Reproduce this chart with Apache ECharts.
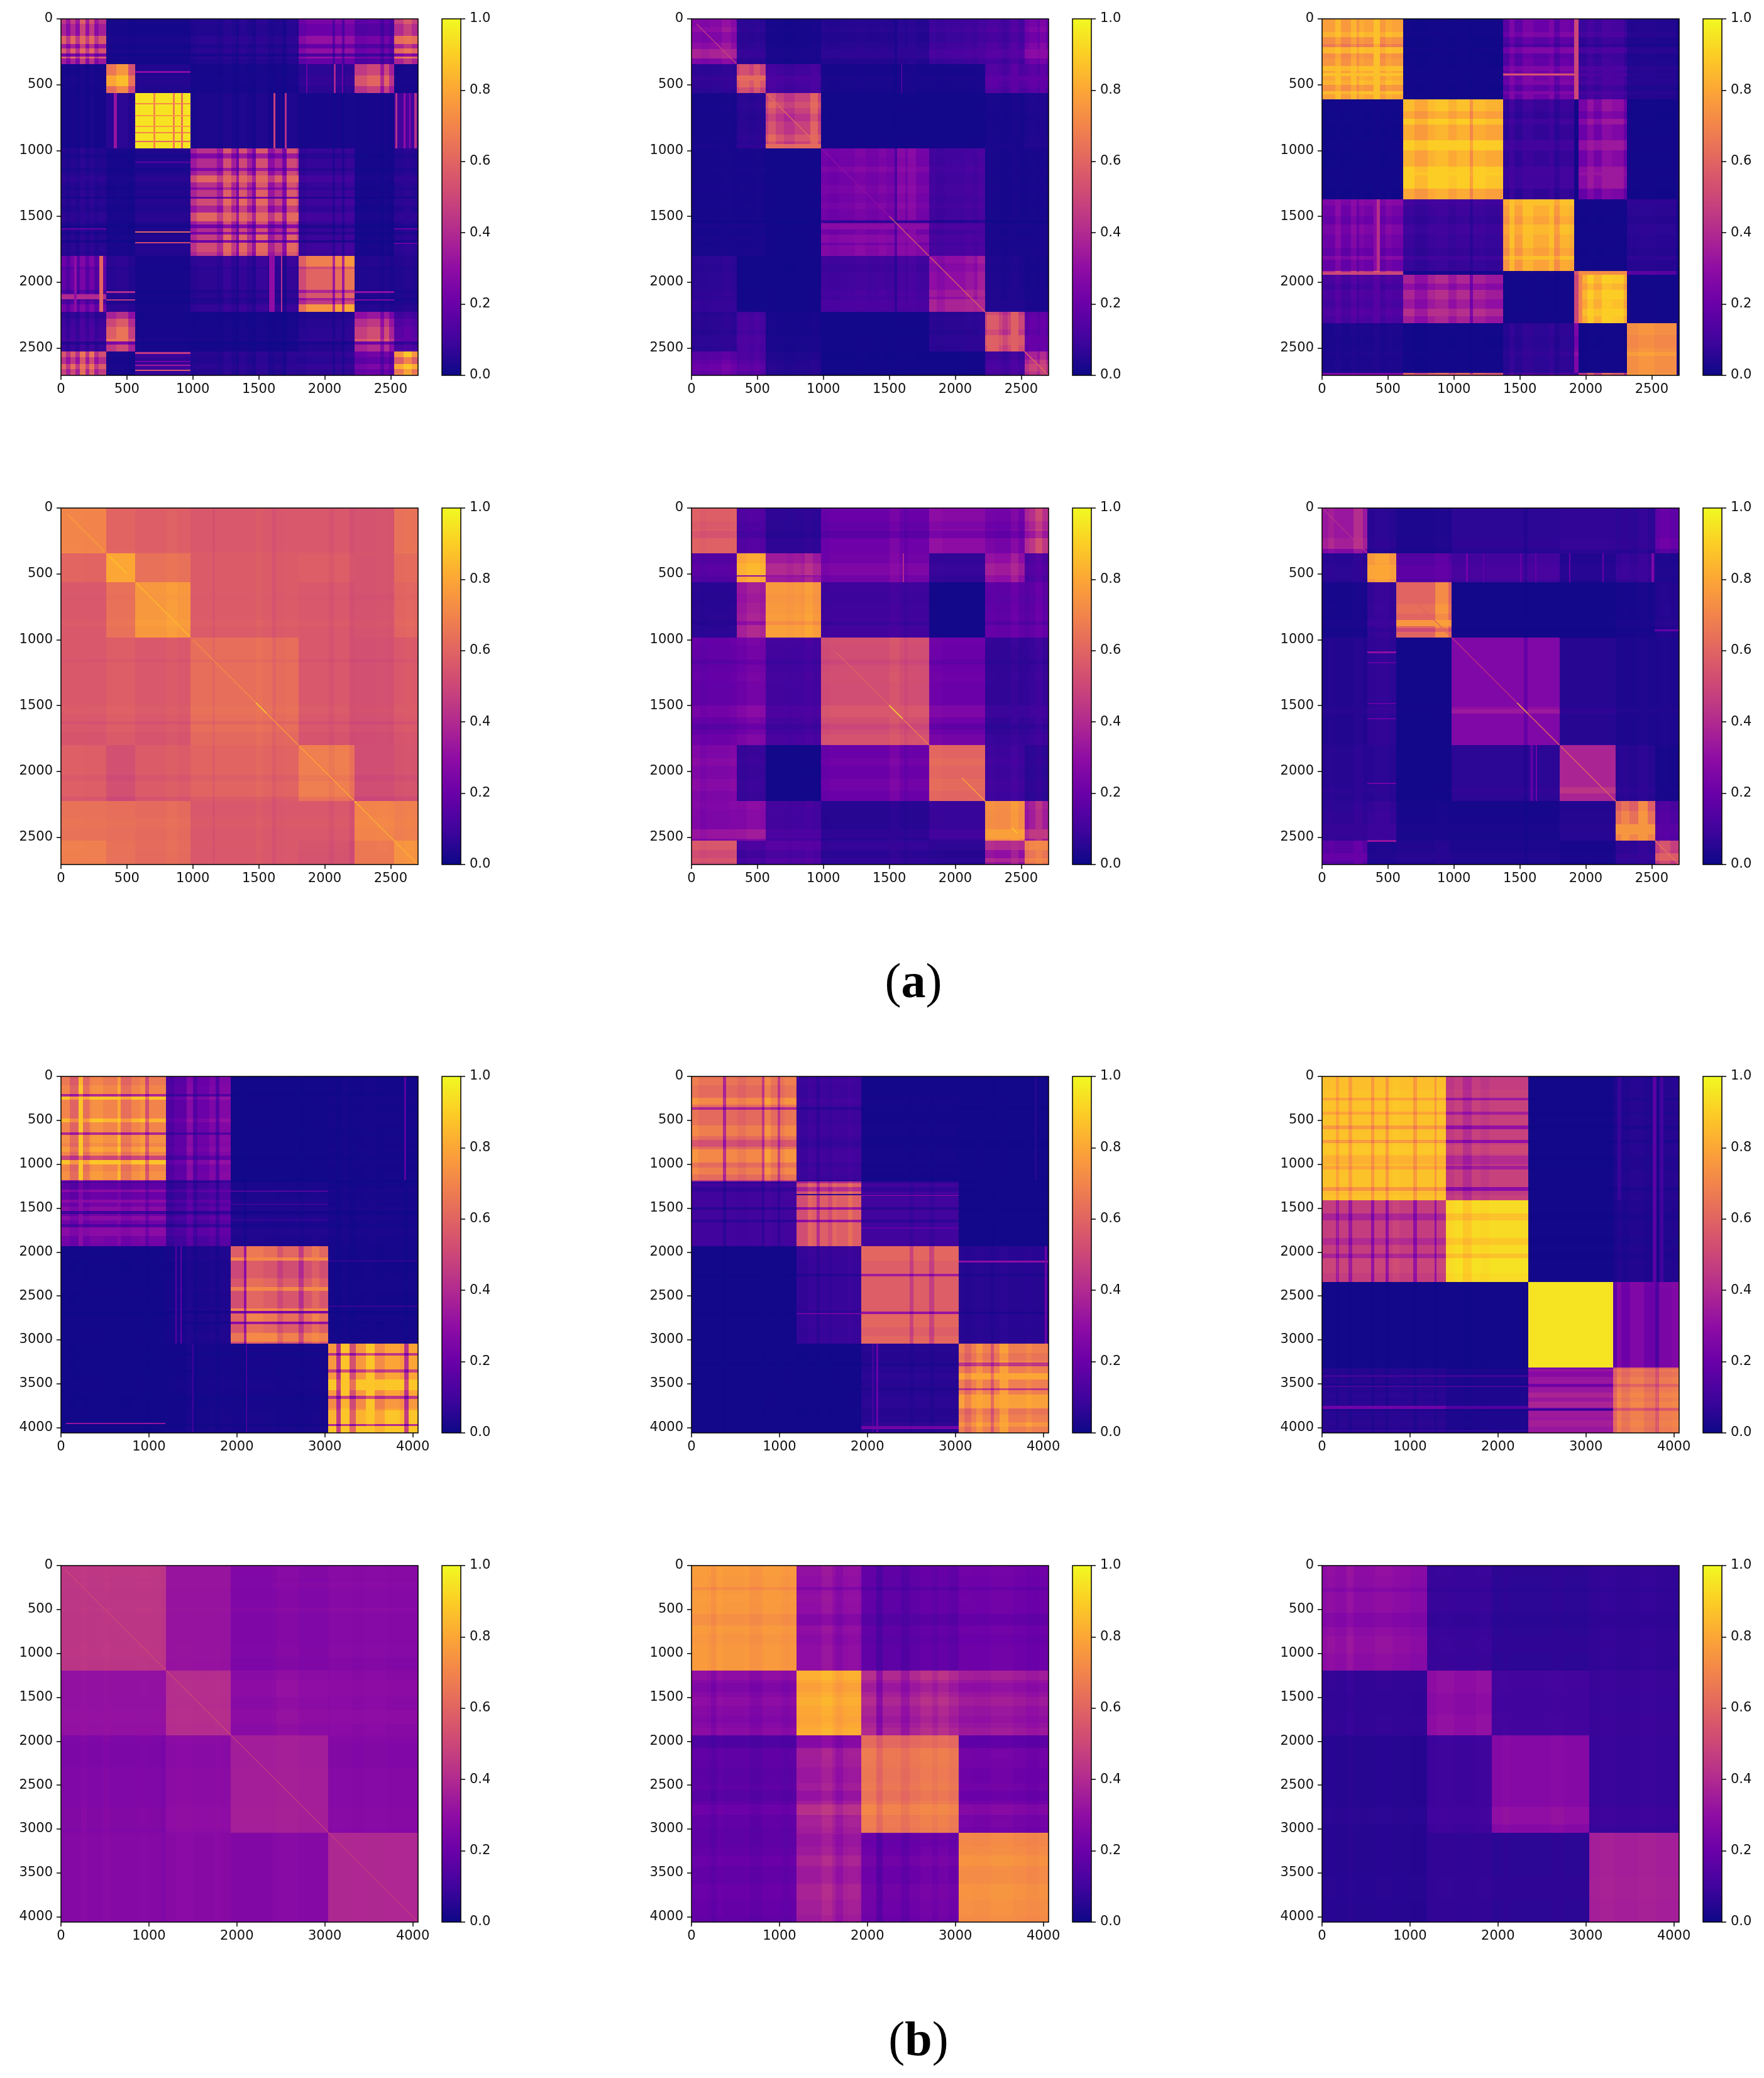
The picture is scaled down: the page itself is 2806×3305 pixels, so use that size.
<!DOCTYPE html>
<html>
<head>
<meta charset="utf-8">
<title>Similarity matrices</title>
<script src="https://cdn.jsdelivr.net/npm/echarts@6/dist/echarts.min.js"></script>
<style>
  html, body { margin: 0; padding: 0; background: #fff; }
  #chart { width: 2806px; height: 3305px; }
</style>
</head>
<body>
<div id="chart"></div>
<script>
// tick labels
const xTicksA = [0, 500, 1000, 1500, 2000, 2500];
const yTicksA = [0, 500, 1000, 1500, 2000, 2500];
const xTicksB = [0, 1000, 2000, 3000, 4000];
const yTicksB = [0, 500, 1000, 1500, 2000, 2500, 3000, 3500, 4000];
const barTicks = [0, 0.2, 0.4, 0.6, 0.8, 1];
const sizeA = 2708;
const sizeB = 4060;

// cluster edges, in matrix index
const edgesA = [0, 345, 563, 983, 1800, 2228, 2526, 2708];
const edgesA3 = [0, 613, 1372, 1913, 1945, 2312, 2690, 2708];
const edgesB = [0, 1195, 1930, 3040, 4060];
const edgesB3 = [0, 1408, 2345, 3312, 4060];

const plasma = ['#0d0887', '#41049d', '#6a00a8', '#8f0da4', '#b12a90', '#cc4778', '#e16462', '#f2844b', '#fca636', '#fcce25', '#f0f921'];

// mean value of each cluster pair
const p1Blocks = [
  [.47, .02, .02, .05, .24, .18, .50],
  [.02, .66, .04, .02, .06, .50, .02],
  [.02, .05, .95, .03, .02, .02, .10],
  [.05, .02, .04, .47, .08, .02, .05],
  [.20, .05, .02, .07, .62, .04, .04],
  [.10, .50, .02, .02, .05, .45, .14],
  [.50, .02, .08, .05, .06, .20, .68]
];
const p2Blocks = [
  [.30, .06, .02, .05, .10, .12, .22],
  [.06, .48, .10, .02, .02, .13, .14],
  [.02, .05, .48, .01, .01, .02, .03],
  [.02, .02, .01, .22, .10, .02, .02],
  [.06, .01, .01, .10, .30, .03, .02],
  [.05, .10, .02, .01, .05, .45, .15],
  [.18, .14, .04, .01, .01, .10, .38]
];
const p3Blocks = [
  [.80, .01, .20, .45, .10, .04, .02],
  [.01, .83, .08, .01, .26, .01, .02],
  [.22, .08, .80, .01, .01, .05, .02],
  [.45, .02, .02, .55, .65, .15, .02],
  [.12, .32, .01, .60, .84, .01, .01],
  [.03, .01, .06, .25, .01, .73, .01],
  [.25, .55, .12, .10, .50, .75, .02]
];
const p4Blocks = [
  [.70, .60, .58, .56, .56, .54, .64],
  [.60, .80, .64, .57, .58, .54, .62],
  [.56, .64, .76, .57, .56, .54, .60],
  [.56, .58, .56, .63, .56, .53, .56],
  [.58, .53, .57, .60, .68, .52, .54],
  [.64, .63, .62, .56, .56, .70, .68],
  [.68, .64, .62, .56, .54, .66, .74]
];
const p5Blocks = [
  [.58, .14, .06, .20, .28, .22, .42],
  [.14, .80, .33, .22, .07, .30, .13],
  [.05, .33, .74, .09, .01, .16, .16],
  [.18, .22, .10, .52, .20, .07, .08],
  [.25, .08, .01, .20, .60, .09, .06],
  [.25, .27, .10, .05, .08, .72, .35],
  [.52, .10, .12, .06, .05, .32, .66]
];
const p6Blocks = [
  [.33, .05, .03, .06, .07, .06, .17],
  [.05, .74, .14, .10, .04, .07, .03],
  [.02, .07, .60, .01, .01, .02, .04],
  [.04, .06, .01, .26, .05, .03, .03],
  [.05, .05, .01, .06, .38, .05, .02],
  [.06, .07, .02, .02, .04, .58, .12],
  [.15, .03, .04, .03, .02, .06, .45]
];
const p7Blocks = [
  [.70, .24, .01, .015],
  [.22, .14, .03, .02],
  [.01, .03, .55, .015],
  [.01, .02, .02, .76]
];
const p8Blocks = [
  [.62, .09, .015, .01],
  [.10, .58, .10, .01],
  [.01, .08, .58, .05],
  [.01, .01, .05, .68]
];
const p9Blocks = [
  [.87, .48, .01, .05],
  [.47, .93, .01, .04],
  [.01, .01, .95, .26],
  [.05, .03, .33, .68]
];
const p10Blocks = [
  [.44, .32, .26, .27],
  [.31, .41, .29, .28],
  [.26, .29, .36, .27],
  [.27, .28, .27, .39]
];
const p11Blocks = [
  [.76, .30, .17, .21],
  [.27, .80, .36, .32],
  [.17, .35, .66, .22],
  [.18, .34, .20, .72]
];
const p12Blocks = [
  [.29, .08, .06, .07],
  [.07, .28, .10, .08],
  [.05, .09, .27, .08],
  [.05, .07, .06, .36]
];

// above this block value the stripes of a panel fade
const softFrom = [.81, .81, .7, .4, .5, .7, .81, .81, .65, .3, .6, .3];
// brightest colour value seen in each panel
const peaks = [.97, .62, .9, .85, .86, .9, .88, .8, .95, .52, .86, .46];

// stripes: [from, to, weight on the block value]
const p1Rows = [[0,40,.95],[40,130,.8],[130,190,1.25],[190,225,.75],[225,265,1.2],[265,285,.5],[285,300,1.25],[300,345,.75],[345,430,.95],[430,510,1.15],[510,563,.9],
  [983,1020,.95],[1020,1060,.6],[1060,1130,.9],[1130,1155,.6],[1155,1190,.9],[1190,1240,1.35],[1240,1280,.95],[1280,1300,.7],[1300,1350,1],[1350,1365,.45],[1365,1420,1.15],[1420,1470,.85],[1470,1540,1.35],[1540,1560,.9],[1560,1590,.5],[1590,1620,.9],[1620,1640,.55],[1640,1680,1.05],[1680,1700,.45],[1700,1770,1.15],
  [1800,1880,1.05],[1880,1900,.8],[1900,2060,.92],[2060,2080,.6],[2080,2120,.85],[2120,2140,.55],[2140,2170,.7],[2170,2228,1.15],
  [2228,2280,.7],[2280,2340,.95],[2340,2430,1.1],[2430,2450,1.3],[2450,2475,.45],[2475,2526,.85],[2526,2570,1.1],[2570,2620,.85],[2620,2660,1.2],[2660,2690,.95]];
const p1Cols = [[0,40,1],[40,70,.75],[70,110,1.05],[110,145,.75],[145,185,1.3],[185,215,.8],[215,255,1.2],[255,285,.75],[285,345,.95],[345,420,1.05],[420,510,1.2],[510,563,.85],
  [983,1030,.8],[1030,1180,.95],[1180,1230,.75],[1230,1290,1.25],[1290,1330,.85],[1330,1350,.55],[1350,1410,1.2],[1410,1450,.85],[1450,1480,.6],[1480,1570,1.25],[1570,1620,.7],[1620,1680,.9],[1680,1710,.55],[1710,1790,1.2],
  [1800,1860,.9],[1860,2060,1.05],[2060,2080,.6],[2080,2130,1.1],[2130,2150,.6],[2150,2228,1.15],[2228,2320,.95],[2320,2420,1.05],[2420,2450,.7],[2450,2490,1.05],[2490,2526,.75],[2526,2600,1],[2600,2660,1.2]];
const p2Rows = [[0,60,.9],[100,180,.85],[230,300,1.25],[300,345,.85],[430,470,1.3],[470,520,1.15],[630,680,1.1],[720,780,.9],[880,930,1.15],[950,985,1.4],[983,1050,1.05],[1120,1165,1.15],[1260,1330,1.1],[1400,1440,1.1],[1530,1550,.45],[1550,1600,1.35],[1640,1700,1.25],[1720,1800,1.2],[1860,1920,.9],[2060,2110,1.15],[2130,2228,1.25],[2250,2360,1.1],[2400,2480,1.25],[2480,2526,1.15],[2526,2590,.85],[2620,2680,1.15]];
const p2Cols = [[70,140,.95],[230,300,1.15],[360,440,1.1],[470,520,1.15],[580,640,1.15],[700,780,.9],[900,960,1.25],[1040,1120,.95],[1240,1320,1.1],[1420,1480,1.1],[1540,1560,.55],[1560,1620,1.2],[1640,1700,1.25],[1860,1920,.9],[2080,2140,1.1],[2170,2228,1.2],[2240,2330,1.15],[2360,2400,.9],[2420,2480,1.3],[2560,2620,1.15],[2640,2690,1.25]];
const p3Rows = [[0,100,1],[100,140,1.25],[140,190,.8],[190,215,.6],[215,265,1.3],[265,300,.8],[300,360,.9],[360,395,1.4],[395,412,1.05],[412,435,1.9],[435,470,1.1],[470,500,1.25],[500,550,.85],[550,575,1.35],[575,613,1.05],
  [613,700,1.05],[700,760,.85],[760,800,1.2],[800,920,.9],[920,1000,1.35],[1000,1120,.95],[1120,1165,1.3],[1165,1190,1.4],[1190,1290,1.25],[1290,1372,.85],
  [1372,1420,1.3],[1420,1500,1.1],[1500,1560,.95],[1560,1640,1.2],[1640,1740,1.05],[1740,1800,.9],[1800,1830,1.3],[1830,1913,.95],
  [1945,2010,1.1],[2010,2060,.9],[2060,2130,1.15],[2130,2200,1],[2200,2260,1.25],[2260,2312,1.05],[2400,2500,.9],[2530,2560,1.2]];
const p3Cols = [[0,100,.9],[100,145,1.2],[145,220,.85],[220,260,1.15],[260,280,.8],[280,320,1.05],[320,390,.95],[390,440,1.7],[440,480,.85],[480,530,1.05],[530,613,.95],
  [613,700,1.05],[700,800,.85],[800,860,1.05],[860,960,1.15],[960,1020,.95],[1020,1120,1.1],[1120,1145,.65],[1145,1240,1.05],[1240,1372,.95],
  [1372,1420,.8],[1420,1460,1.25],[1460,1520,.85],[1520,1600,1.2],[1600,1720,1],[1720,1760,1.25],[1760,1800,.75],[1800,1880,1.1],
  [1945,2010,.85],[2010,2060,1.15],[2060,2120,.9],[2120,2200,1.2],[2200,2290,1.1],[2290,2312,.8],[2400,2520,1.1]];
const p4Rows = [[0,110,1],[330,345,1.05],[650,700,.97],[850,900,1.06],[1150,1170,.9],[1500,1560,1.05],[1620,1645,.85],[1700,1800,.92],[2030,2075,.9],[2190,2228,.84],[2350,2430,1.04],[2526,2610,1.02]];
const p4Cols = [[0,170,1.02],[800,880,1.07],[1150,1170,.88],[1480,1530,1.08],[1600,1630,.85],[1640,1700,.97],[1800,1900,1],[2030,2075,.9],[2190,2225,.82],[2400,2480,1.02],[2610,2680,1.03]];
const p5Rows = [[100,160,.9],[170,230,.8],[230,345,1.05],[350,420,1],[420,510,1.15],[563,650,1.05],[720,800,1.05],[800,860,1.1],[860,890,.9],[890,983,1.15],[983,1040,1.05],[1150,1190,.85],[1250,1320,1.05],[1500,1590,1.25],[1590,1640,1.05],[1640,1680,.85],[1720,1800,1.15],[1800,1900,1],[1900,1960,1.1],[2060,2150,1.1],[2228,2290,1.05],[2440,2510,1.3],[2510,2526,1],[2526,2600,1.25],[2600,2660,.95],[2660,2690,1.2]];
const p5Cols = [[0,60,1.05],[60,120,.95],[290,345,1.05],[345,420,.95],[420,520,1.05],[563,720,1.05],[770,830,1.05],[860,920,1.15],[983,1050,.95],[1250,1370,1],[1500,1580,1.2],[1610,1640,.9],[1800,1900,1.05],[2228,2300,1.05],[2420,2480,1.2],[2526,2560,.9],[2610,2660,1.2]];
const p6Rows = [[230,310,1.1],[310,345,.8],[350,420,1.05],[430,540,1.2],[730,800,1.05],[850,900,1.25],[910,940,.85],[1510,1530,1.15],[1530,1560,1.3],[1560,1600,1],[1970,2050,1],[2120,2170,1.15],[2300,2400,1.1],[2400,2480,1.3],[2480,2526,1.2],[2526,2600,1.05],[2620,2680,1.25]];
const p6Cols = [[50,90,1.1],[240,310,1.25],[350,400,1.05],[400,510,1.2],[600,700,1],[860,960,1.2],[1530,1560,.7],[1940,2060,1],[2270,2330,1.1],[2400,2470,1.25],[2560,2640,1.15]];
const p7Rows = [[0,100,.95],[200,230,.55],[230,265,1.25],[265,440,1],[480,520,1.2],[640,665,.55],[665,760,1.05],[800,860,1.1],[900,950,.7],[950,1000,1.25],[1000,1080,1],[1080,1180,1.05],[1184,1210,.4],
  [1210,1290,.8],[1290,1320,1.35],[1320,1400,.9],[1400,1440,1.4],[1480,1530,1.3],[1530,1570,.45],[1590,1640,1.3],[1680,1720,.6],[1720,1820,1.35],[1820,1890,1.05],
  [1930,2060,1.1],[2060,2100,1.4],[2100,2300,.95],[2300,2400,1.05],[2400,2440,1.3],[2640,2670,1.35],[2670,2700,.45],[2700,2790,1.15],[2790,2820,.55],[2820,2920,1.05],[2920,3020,1.25],
  [3040,3150,1],[3150,3180,.55],[3180,3340,1],[3340,3370,.6],[3450,3570,1.2],[3640,3670,.55],[3670,3780,.95],[3800,3960,1.1],[3960,3980,.5],[3980,4060,1.15]];
const p7Cols = [[0,100,1],[100,200,.85],[200,250,1.25],[250,320,.9],[340,480,1.05],[560,640,1],[640,680,1.15],[680,800,.9],[900,960,1.05],[960,1000,.75],[1000,1190,1],
  [1195,1290,.55],[1290,1430,.7],[1430,1500,1.15],[1500,1550,.6],[1550,1690,.85],[1690,1760,1.05],[1760,1800,.6],[1800,1930,1.1],
  [1930,2080,.95],[2080,2110,.55],[2110,2300,1.1],[2300,2460,1.05],[2460,2520,.9],[2700,2760,.75],[2760,2850,1],[2850,2940,1.1],[2940,3040,1],
  [3040,3130,1],[3130,3180,.55],[3180,3280,1.15],[3280,3350,.7],[3350,3470,1],[3470,3570,1.25],[3570,3680,.95],[3680,3850,1.05],[3900,3950,.55],[3950,4060,1.05]];
const p8Rows = [[0,100,1.05],[240,320,1.15],[350,380,.6],[380,490,1],[560,680,1.1],[720,800,.85],[830,980,1.15],[1040,1120,1.1],[1184,1220,.7],[1260,1310,.7],[1350,1450,1],[1490,1520,.55],[1630,1660,.55],[1660,1770,1],[1930,2100,1.05],[2250,2280,.6],[2280,2390,1],[2680,2710,.55],[2710,2860,1.05],[2960,3040,1.05],[3150,3240,.95],[3260,3300,.65],[3380,3450,1.2],[3550,3570,.65],[3620,3780,1.15],[3780,3850,.95],[3940,3990,1.1]];
const p8Cols = [[0,80,1.05],[360,390,.6],[390,520,1],[520,620,.95],[800,830,.7],[830,900,1.1],[980,1010,.7],[1060,1190,1.05],[1195,1320,.9],[1320,1370,1.05],[1420,1460,.7],[1550,1600,.9],[1600,1650,1.05],[1780,1830,1.1],[1930,2070,1],[2480,2520,.8],[2700,2760,.8],[2980,3040,1],[3100,3180,.9],[3240,3310,1.1],[3400,3440,.8],[3500,3600,1.15],[3800,3870,1.05]];
const p9Rows = [[0,150,.97],[240,270,.7],[400,440,.75],[560,600,.65],[720,760,.65],[780,880,1.05],[900,1000,.85],[1020,1060,.75],[1090,1220,1],[1260,1300,.6],[1300,1350,.95],[1408,1500,1],[1560,1640,.8],[1840,1920,.85],[2020,2070,.8],[2070,2240,1.05],[2345,2400,1.03],[3312,3340,.7],[3360,3420,.85],[3500,3540,.65],[3600,3660,1.15],[3700,3770,1.15],[3770,3810,.55],[3810,3880,1.05],[3920,3990,1.1]];
const p9Cols = [[0,110,1],[160,190,.75],[300,340,.7],[560,590,.65],[720,760,.65],[800,880,1.05],[1040,1080,.65],[1280,1300,.65],[1300,1330,1],[1408,1500,.95],[1600,1700,.85],[1800,1900,.95],[2345,2500,1],[3312,3350,.65],[3400,3500,.8],[3600,3660,1],[3660,3790,.8],[3730,3790,.55],[3790,3830,.5],[3830,3980,.95]];
const p10Rows = [[0,150,1.03],[180,260,1.04],[480,520,1.06],[900,1040,1.02],[1060,1180,.98],[1300,1500,1.03],[1650,1800,1.04],[2000,2300,.97],[2750,3000,1.03]];
const p10Cols = [[230,290,1.05],[480,560,1.04],[880,1000,1.02],[1140,1190,.96],[1300,1500,1.02],[1750,1800,1.02],[1930,2400,.98],[2450,2700,1.05],[3050,3300,1.02],[3450,3700,1.02]];
const p11Rows = [[0,120,1.03],[240,280,.85],[320,420,1.02],[550,680,.88],[700,740,1.02],[780,900,.95],[900,1180,1],[1195,1300,1.1],[1340,1440,.92],[1500,1600,1.08],[1720,1790,.95],[1850,1930,1.06],[1930,2080,.78],[2100,2200,1.02],[2300,2480,.95],[2560,2680,.9],[2720,2840,1.2],[2860,2980,1.05],[3060,3200,.95],[3300,3420,1.1],[3620,3800,1.1],[3800,3980,1.05]];
const p11Cols = [[0,180,1.03],[220,280,.9],[300,350,1.05],[600,660,1.02],[640,800,.92],[820,1000,1.02],[1040,1120,.95],[1195,1480,1],[1480,1600,1.1],[1640,1720,.9],[1780,1900,1.02],[1930,2100,1.05],[2100,2170,.75],[2380,2480,.85],[2600,2740,1.1],[2800,2920,1.1],[3050,3200,1.02],[3400,3650,1.05],[3800,3950,.95]];
const p12Rows = [[0,120,1.02],[250,300,.9],[540,700,.9],[800,1000,1.05],[1195,1450,1.05],[1700,1930,1.05],[1930,2100,1],[2750,2950,1.12],[3060,3300,1],[3550,3800,1.05]];
const p12Cols = [[60,140,1.05],[280,360,1.1],[600,800,1.05],[1000,1190,.95],[1300,1500,1.05],[1750,1920,1.05],[2050,2130,1.05],[2600,2750,1.05],[3150,3330,1.08],[3600,3800,1.08]];

// thin lines that cross a block: [x from, x to, y from, y to, value]
const p1Lines = [
  [563,983,395,412,.28],[400,422,563,983,.32],[1612,1626,563,983,.48],[1695,1710,563,983,.42],[2535,2552,563,983,.42],[2600,2612,563,983,.3],[2640,2652,563,983,.28],[2680,2700,563,983,.42],
  [563,983,640,650,.72],[563,983,860,870,.7],[563,983,925,938,.62],[700,715,563,983,.72],[850,862,563,983,.68],[910,925,563,983,.65],[563,983,730,742,.78],[563,983,810,820,.78],
  [563,983,1086,1096,.16],[563,983,1615,1626,.6],[563,983,1695,1706,.5],[563,983,2530,2546,.45],[563,983,2596,2606,.22],[563,983,2626,2638,.35],[563,983,2664,2676,.55],
  [1580,1620,1800,2228,.3],[1668,1680,1800,2228,.42],[2070,2082,345,563,.38],[2130,2140,345,563,.22],[1860,1870,345,563,.2],
  [345,563,2070,2080,.4],[345,563,2130,2140,.45],[2228,2526,2070,2080,.3],[2228,2526,2130,2140,.25],[0,345,2090,2128,.4],
  [1,345,1590,1600,.2],[2526,2708,1590,1600,.2],[2526,2708,1700,1708,.2],[100,120,1800,2228,.3],[290,320,1800,2228,.6]
];
const p2Lines = [[1590,1598,345,563,.22],[1010,1800,1540,1546,.05]];
const p3Lines = [
  [1372,1913,415,432,.55],[1913,1945,0,613,.5],[0,613,1925,1945,.5],[1945,2312,1913,1945,.72],[1945,1975,1945,2312,.7],[1913,1945,1945,2312,.5],
  [2690,2708,613,1372,.02],[613,1372,2700,2708,.55],[0,613,2690,2708,.25],[415,440,1372,1913,.42]
];
const p4Lines = [[2225,2235,2228,2240,.9]];
const p5Lines = [[345,980,510,520,.3],[1600,1610,345,563,.4]];
const p6Lines = [[345,563,1090,1102,.3],[345,563,1170,1178,.18],[345,563,1480,1490,.18],[345,563,1595,1604,.2],[345,563,2085,2095,.22],[345,563,2520,2536,.32],
  [1090,1104,345,563,.22],[1220,1228,345,563,.16],[1500,1510,345,563,.2],[1615,1625,345,563,.18],[1875,1885,345,563,.2],[2125,2135,345,563,.2],[2500,2515,345,563,.26],[2520,2708,920,935,.2],[1580,1600,1800,2228,.16],[1620,1632,1800,2228,.22]];
const p7Lines = [[3900,3925,0,1184,.16],[1300,1315,1930,3040,.16],[1360,1375,1930,3040,.18],[1930,3040,1300,1310,.24],[1930,3040,1450,1460,.16],[1930,3040,1630,1640,.12],[3040,4060,2095,2105,.12],[3040,4060,2610,2622,.16],[60,1190,3945,3958,.32],[2100,2115,3040,4060,.1],[1495,1505,3040,4060,.1]];
const p8Lines = [[3900,3925,0,1184,.05],[1195,1930,1340,1350,.05],[1930,3040,3950,3960,.08],[1930,3040,1350,1360,.3],[1930,3040,1720,1730,.18],[3040,4060,2100,2122,.3],[4020,4035,1930,3040,.22],[2100,2120,3040,4060,.2],[1195,1930,2695,2705,.22],[2050,2070,3040,4060,.1],[1930,3040,3980,4015,.22]];
const p9Lines = [[0,1408,3750,3790,.22],[1408,2345,3750,3785,.14],[3360,3400,0,1408,.08],[3760,3800,0,2345,.16],[3840,3880,0,2345,.1],[0,2345,3400,3420,.1],[0,2345,3520,3540,.12],[0,2345,4030,4040,.12],[2345,3312,3790,3800,.06]];
const p10Lines = [];
const p11Lines = [[1195,1930,3050,3060,.35]];
const p12Lines = [];

// bright diagonal runs: [from, to, value]
const p2Diag = [[40,340,.48],[570,980,.62],[1000,1500,.3],[1500,1800,.55],[1810,2228,.58],[2526,2708,.62]];
const p4Diag = [[50,330,.78],[370,500,.88],[570,980,.85],[1000,1480,.72],[1480,1560,.92],[1560,1800,.76],[1810,2220,.8],[2235,2708,.82]];
const p5Diag = [[1100,1500,.6],[1500,1600,.95],[1600,1800,.68],[2050,2228,.8],[2430,2470,.9]];
const p6Diag = [[0,340,.42],[570,980,.6],[985,1480,.42],[1480,1560,.85],[1560,1800,.62],[1810,2228,.6],[2526,2708,.65]];
const p10Diag = [[50,1190,.5],[1200,1930,.5],[1930,3040,.46],[3040,4060,.46]];
const p12Diag = [];

const panels = [
  {n: sizeA, xt: xTicksA, yt: yTicksA, edges: edgesA, blocks: p1Blocks, rows: p1Rows, cols: p1Cols, lines: p1Lines, diag: []},
  {n: sizeA, xt: xTicksA, yt: yTicksA, edges: edgesA, blocks: p2Blocks, rows: p2Rows, cols: p2Cols, lines: p2Lines, diag: p2Diag},
  {n: sizeA, xt: xTicksA, yt: yTicksA, edges: edgesA3, blocks: p3Blocks, rows: p3Rows, cols: p3Cols, lines: p3Lines, diag: []},
  {n: sizeA, xt: xTicksA, yt: yTicksA, edges: edgesA, blocks: p4Blocks, rows: p4Rows, cols: p4Cols, lines: p4Lines, diag: p4Diag},
  {n: sizeA, xt: xTicksA, yt: yTicksA, edges: edgesA, blocks: p5Blocks, rows: p5Rows, cols: p5Cols, lines: p5Lines, diag: p5Diag},
  {n: sizeA, xt: xTicksA, yt: yTicksA, edges: edgesA, blocks: p6Blocks, rows: p6Rows, cols: p6Cols, lines: p6Lines, diag: p6Diag},
  {n: sizeB, xt: xTicksB, yt: yTicksB, edges: edgesB, blocks: p7Blocks, rows: p7Rows, cols: p7Cols, lines: p7Lines, diag: []},
  {n: sizeB, xt: xTicksB, yt: yTicksB, edges: edgesB, blocks: p8Blocks, rows: p8Rows, cols: p8Cols, lines: p8Lines, diag: []},
  {n: sizeB, xt: xTicksB, yt: yTicksB, edges: edgesB3, blocks: p9Blocks, rows: p9Rows, cols: p9Cols, lines: p9Lines, diag: []},
  {n: sizeB, xt: xTicksB, yt: yTicksB, edges: edgesB, blocks: p10Blocks, rows: p10Rows, cols: p10Cols, lines: p10Lines, diag: p10Diag},
  {n: sizeB, xt: xTicksB, yt: yTicksB, edges: edgesB, blocks: p11Blocks, rows: p11Rows, cols: p11Cols, lines: p11Lines, diag: []},
  {n: sizeB, xt: xTicksB, yt: yTicksB, edges: edgesB, blocks: p12Blocks, rows: p12Rows, cols: p12Cols, lines: p12Lines, diag: p12Diag}
];

// layout of the page, in px
const colLeft = [97, 1100, 2103];
const rowTop = [30, 808, 1712, 2490];
const plotW = 568;
const plotH = 567;
const barLeft = 606;
const barW = 30;
const fontFamily = '"DejaVu Sans", sans-serif';
const fontSize = 21;

function breaksOf(edges, bands) {
  let set = new Set(edges);
  bands.forEach(b => { set.add(b[0]); set.add(b[1]); });
  return Array.from(set).sort((a, b) => a - b);
}

function findIndex(edges, v) {
  for (let i = 0; i < edges.length - 1; i++) {
    if (v < edges[i + 1]) return i;
  }
  return edges.length - 2;
}

function weightAt(bands, v) {
  for (let i = 0; i < bands.length; i++) {
    if (v >= bands[i][0] && v < bands[i][1]) return bands[i][2];
  }
  return 1;
}

// one row per drawn cell: x0, x1, y0, y1, value, kind (0 rect, 1 diagonal)
function cellsOf(p, soft, peak) {
  let out = [];
  const xs = breaksOf(p.edges, p.cols);
  const ys = breaksOf(p.edges, p.rows);
  for (let j = 0; j < ys.length - 1; j++) {
    const ym = (ys[j] + ys[j + 1]) / 2;
    const r = findIndex(p.edges, ym);
    const rw = weightAt(p.rows, ym);
    for (let i = 0; i < xs.length - 1; i++) {
      const xm = (xs[i] + xs[i + 1]) / 2;
      const b = p.blocks[r][findIndex(p.edges, xm)];
      const k = b >= soft ? 0.3 : 1;
      const w = Math.min(1.3, rw * weightAt(p.cols, xm));
      out.push([xs[i], xs[i + 1], ys[j], ys[j + 1], Math.min(peak, b * Math.pow(w, k)), 0]);
    }
  }
  p.lines.forEach(l => out.push([l[0], l[1], l[2], l[3], l[4], 0]));
  p.diag.forEach(d => out.push([d[0], d[1], d[0], d[1], d[2], 1]));
  return out;
}

function renderCell(params, api) {
  const a = api.coord([api.value(0), api.value(2)]);
  const b = api.coord([api.value(1), api.value(3)]);
  const color = api.visual('color');
  if (api.value(5) === 1) {
    return {type: 'line', shape: {x1: a[0], y1: a[1], x2: b[0], y2: b[1]}, style: {stroke: color, lineWidth: 1.4, fill: null}};
  }
  const x = Math.round(a[0]);
  const y = Math.round(a[1]);
  return {
    type: 'rect',
    shape: {x: x, y: y, width: Math.max(1, Math.round(b[0]) - x), height: Math.max(1, Math.round(b[1]) - y)},
    style: {fill: color}
  };
}

function renderBar(params, api) {
  const a = api.coord([0, 1]);
  const b = api.coord([1, 0]);
  const stops = plasma.map((c, i) => ({offset: i / (plasma.length - 1), color: c}));
  return {
    type: 'rect',
    shape: {x: a[0], y: a[1], width: b[0] - a[0], height: b[1] - a[1]},
    style: {fill: new echarts.graphic.LinearGradient(0, 1, 0, 0, stops)}
  };
}

function tickAxis(extra, margin) {
  return Object.assign({
    type: 'value',
    splitLine: {show: false},
    axisLine: {show: false, onZero: false},
    axisTick: {show: true, length: 7, lineStyle: {color: '#000', width: 1.5}},
    axisLabel: {color: '#111', fontFamily: fontFamily, fontSize: fontSize, margin: margin, hideOverlap: false, formatter: v => String(v)}
  }, extra);
}

let grids = [], xAxes = [], yAxes = [], series = [], heatIndex = [];

panels.forEach((p, i) => {
  const left = colLeft[i % 3];
  const top = rowTop[Math.floor(i / 3)];
  const frame = {show: true, z: 5, backgroundColor: 'transparent', borderColor: '#000', borderWidth: 1.5};

  grids.push(Object.assign({left: left, top: top, width: plotW, height: plotH}, frame));
  let x = tickAxis({gridIndex: grids.length - 1, position: 'bottom', min: 0, max: p.n}, 12);
  x.axisTick.customValues = p.xt;
  x.axisLabel.customValues = p.xt;
  let y = tickAxis({gridIndex: grids.length - 1, position: 'left', inverse: true, min: 0, max: p.n}, 13);
  y.axisTick.customValues = p.yt;
  y.axisLabel.customValues = p.yt;
  xAxes.push(x);
  yAxes.push(y);
  heatIndex.push(series.length);
  series.push({
    type: 'custom',
    coordinateSystem: 'cartesian2d',
    xAxisIndex: grids.length - 1,
    yAxisIndex: grids.length - 1,
    data: cellsOf(p, softFrom[i], peaks[i]),
    dimensions: ['x0', 'x1', 'y0', 'y1', 'value', 'kind'],
    encode: {x: [0, 1], y: [2, 3]},
    renderItem: renderCell,
    silent: true,
    animation: false
  });

  // colorbar next to the panel
  grids.push(Object.assign({left: left + barLeft, top: top, width: barW, height: plotH}, frame));
  xAxes.push({type: 'value', gridIndex: grids.length - 1, min: 0, max: 1, show: false});
  let by = tickAxis({gridIndex: grids.length - 1, position: 'right', min: 0, max: 1}, 14);
  by.axisTick.customValues = barTicks;
  by.axisLabel.customValues = barTicks;
  by.axisLabel.formatter = v => v.toFixed(1);
  yAxes.push(by);
  series.push({
    type: 'custom',
    coordinateSystem: 'cartesian2d',
    xAxisIndex: grids.length - 1,
    yAxisIndex: grids.length - 1,
    data: [[0, 1]],
    renderItem: renderBar,
    silent: true,
    animation: false
  });
});

function subLabel(letter, cx, cy) {
  return {
    type: 'text',
    x: cx,
    y: cy,
    style: {
      text: '{p|(}{b|' + letter + '}{p|)}',
      align: 'center',
      verticalAlign: 'middle',
      rich: {
        p: {fontFamily: '"Liberation Serif"', fontSize: 78, fill: '#000'},
        b: {fontFamily: '"Liberation Serif"', fontSize: 78, fontWeight: 'bold', fill: '#000'}
      }
    }
  };
}

const chart = echarts.init(document.getElementById('chart'), null, {renderer: 'canvas', width: 2806, height: 3305});
chart.setOption({
  animation: false,
  backgroundColor: '#fff',
  grid: grids,
  xAxis: xAxes,
  yAxis: yAxes,
  visualMap: {
    show: false,
    type: 'continuous',
    min: 0,
    max: 1,
    dimension: 4,
    seriesIndex: heatIndex,
    inRange: {color: plasma}
  },
  graphic: [subLabel('a', 1453, 1566), subLabel('b', 1461, 3249)],
  series: series
});
</script>
</body>
</html>
